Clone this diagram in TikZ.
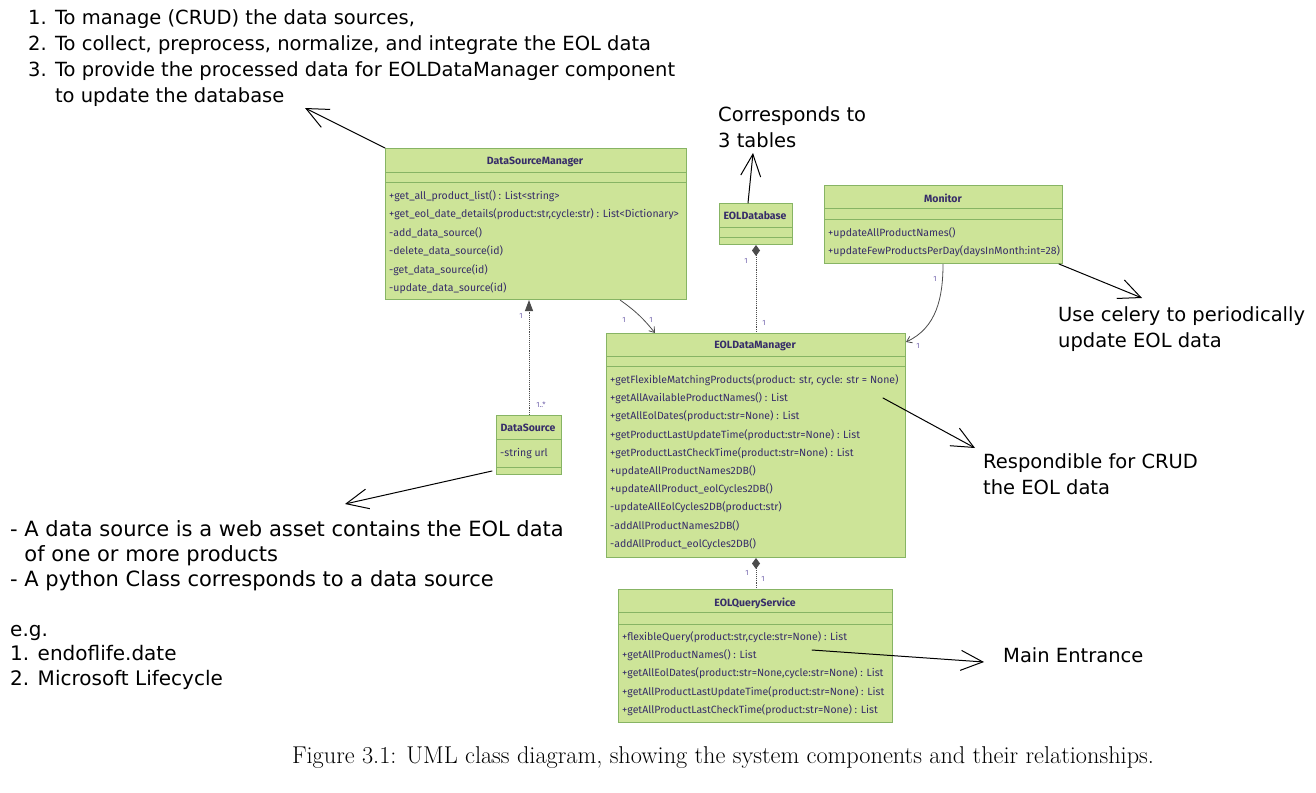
\documentclass[tikz,border=0pt]{standalone}
\usepackage{fontspec}
\usepackage{xcolor}
\usepackage{tikz}
\usetikzlibrary{calc,positioning,arrows.meta}
\newfontfamily\notefont{DejaVu Sans}
\newfontfamily\umlfont{Fira Sans}
\definecolor{classFill}{RGB}{205, 228, 152}
\definecolor{classBorder}{RGB}{135, 180, 100}
\definecolor{classText}{RGB}{55, 45, 105}
\definecolor{multColor}{RGB}{110, 95, 170}

\tikzset{
    classbox/.style={draw=classBorder, fill=classFill, line width=1pt, inner sep=0pt, anchor=north west},
    compline/.style={draw=classBorder, line width=1pt},
    classtitle/.style={font=\umlfont\bfseries\fontsize{10.5}{12}\selectfont, text=classText, inner sep=0pt},
    member/.style={font=\umlfont\fontsize{10.5}{12}\selectfont, text=classText, anchor=west, inner sep=0pt},
    mult/.style={font=\umlfont\fontsize{7.5}{8}\selectfont, text=multColor, inner sep=0pt},
    note/.style={font=\notefont\fontsize{19.5}{26}\selectfont, anchor=north west, align=left, inner sep=0pt},
    notearrow/.style={-{Straight Barb[length=22pt,width=20pt,line width=1pt]}, line width=1pt, line cap=round},
    umlarrow/.style={-{Straight Barb[length=5pt,width=7pt]}, draw=black!70, line width=0.8pt},
    umldots/.style={densely dotted, draw=black!70, line width=0.9pt}
}

\begin{document}
\begin{tikzpicture}[x=1pt, y=-1pt]
            \useasboundingbox (0,0) rectangle (1316,792);

            % DataSourceManager class
            \node[classbox, minimum width=301pt, minimum height=151pt] (dsm) at (385,148) {};
            \draw[compline] ($(dsm.north west)+(0,24)$) -- ($(dsm.north east)+(0,24)$);
            \draw[compline] ($(dsm.north west)+(0,34)$) -- ($(dsm.north east)+(0,34)$);
            \node[classtitle] (dsmTitle) at (535,162) {DataSourceManager};
            \node[member] (dsmM1) at (389,196) {+get\_all\_product\_list() : List<string>};
            \node[member] (dsmM2) at (389,214) {+get\_eol\_date\_details(product:str,cycle:str) : List<Dictionary>};
            \node[member] (dsmM3) at (389,233) {-add\_data\_source()};
            \node[member] (dsmM4) at (389,251) {-delete\_data\_source(id)};
            \node[member] (dsmM5) at (389,270) {-get\_data\_source(id)};
            \node[member] (dsmM6) at (389,288) {-update\_data\_source(id)};

            % EOLDatabase class
            \node[classbox, minimum width=73pt, minimum height=41pt] (edb) at (719,203) {};
            \draw[compline] ($(edb.north west)+(0,24)$) -- ($(edb.north east)+(0,24)$);
            \draw[compline] ($(edb.north west)+(0,34)$) -- ($(edb.north east)+(0,34)$);
            \node[classtitle] (edbTitle) at (755,216) {EOLDatabase};

            % Monitor class
            \node[classbox, minimum width=238pt, minimum height=78pt] (mon) at (824,185) {};
            \draw[compline] ($(mon.north west)+(0,23)$) -- ($(mon.north east)+(0,23)$);
            \draw[compline] ($(mon.north west)+(0,34)$) -- ($(mon.north east)+(0,34)$);
            \node[classtitle] (monTitle) at (943,198) {Monitor};
            \node[member] (monM1) at (828,233) {+updateAllProductNames()};
            \node[member] (monM2) at (828,251) {+updateFewProductsPerDay(daysInMonth:int=28)};

            % EOLDataManager class
            \node[classbox, minimum width=299pt, minimum height=224pt] (edm) at (606,333) {};
            \draw[compline] ($(edm.north west)+(0,23)$) -- ($(edm.north east)+(0,23)$);
            \draw[compline] ($(edm.north west)+(0,33)$) -- ($(edm.north east)+(0,33)$);
            \node[classtitle] (edmTitle) at (755,346) {EOLDataManager};
            \node[member] (edmM1) at (610,380) {+getFlexibleMatchingProducts(product: str, cycle: str = None)};
            \node[member] (edmM2) at (610,398) {+getAllAvailableProductNames() : List};
            \node[member] (edmM3) at (610,416) {+getAllEolDates(product:str=None) : List};
            \node[member] (edmM4) at (610,435) {+getProductLastUpdateTime(product:str=None) : List};
            \node[member] (edmM5) at (610,453) {+getProductLastCheckTime(product:str=None) : List};
            \node[member] (edmM6) at (610,471) {+updateAllProductNames2DB()};
            \node[member] (edmM7) at (610,489) {+updateAllProduct\_eolCycles2DB()};
            \node[member] (edmM8) at (610,507) {-updateAllEolCycles2DB(product:str)};
            \node[member] (edmM9) at (610,526) {-addAllProductNames2DB()};
            \node[member] (edmM10) at (610,544) {-addAllProduct\_eolCycles2DB()};

            % DataSource class
            \node[classbox, minimum width=65pt, minimum height=59pt] (ds) at (496,415) {};
            \draw[compline] ($(ds.north west)+(0,24)$) -- ($(ds.north east)+(0,24)$);
            \draw[compline] ($(ds.north west)+(0,52)$) -- ($(ds.north east)+(0,52)$);
            \node[classtitle] (dsTitle) at (528,428) {DataSource};
            \node[member] (dsM1) at (500,454) {-string url};

            % EOLQueryService class
            \node[classbox, minimum width=274pt, minimum height=133pt] (eqs) at (618,589) {};
            \draw[compline] ($(eqs.north west)+(0,23)$) -- ($(eqs.north east)+(0,23)$);
            \draw[compline] ($(eqs.north west)+(0,35)$) -- ($(eqs.north east)+(0,35)$);
            \node[classtitle] (eqsTitle) at (755,603) {EOLQueryService};
            \node[member] (eqsM1) at (622,637) {+flexibleQuery(product:str,cycle:str=None) : List};
            \node[member] (eqsM2) at (622,655) {+getAllProductNames() : List};
            \node[member] (eqsM3) at (622,673) {+getAllEolDates(product:str=None,cycle:str=None) : List};
            \node[member] (eqsM4) at (622,692) {+getAllProductLastUpdateTime(product:str=None) : List};
            \node[member] (eqsM5) at (622,710) {+getAllProductLastCheckTime(product:str=None) : List};

            % Relations between the classes
            \draw[umldots, -{Triangle[length=11pt,width=8pt]}] (ds.north) -- (ds.north |- dsm.south);
            \draw[umlarrow] ($(dsm.south west)+(235,0)$) to[bend left=8] ($(edm.north west)+(49,0)$);
            \draw[umldots, {Diamond[length=11pt,width=8pt]}-] (edb.south) -- (edb.south |- edm.north);
            \draw[umlarrow] ($(mon.south west)+(119,0)$) to[out=-90, in=25] ($(edm.north east)+(0,9)$);
            \draw[umldots, {Diamond[length=11pt,width=8pt]}-] (edm.south) -- (edm.south |- eqs.north);

            % Multiplicities
            \node[mult] (mDsmDs) at (521,316) {1};
            \node[mult] (mDsDsm) at (541,405) {1..*};
            \node[mult] (mDsmEdm) at (624,320) {1};
            \node[mult] (mEdmDsm) at (651,320) {1};
            \node[mult] (mEdbEdm) at (746,261) {1};
            \node[mult] (mEdmEdb) at (764,323) {1};
            \node[mult] (mMonEdm) at (935,279) {1};
            \node[mult] (mEdmMon) at (918,346) {1};
            \node[mult] (mEdmEqs) at (747,573) {1};
            \node[mult] (mEqsEdm) at (763,579) {1};

            % Notes
            \node[note] (noteDsm) at (28,9) {1. To manage (CRUD) the data sources,\\2. To collect, preprocess, normalize, and integrate the EOL data\\3. To provide the processed data for EOLDataManager component\\\phantom{3. }to update the database};
            \node[note] (noteDb) at (718,106) {Corresponds to\\3 tables};
            \node[note] (noteMon) at (1058,306) {Use celery to periodically\\update EOL data};
            \node[note] (noteEdm) at (983,453) {Respondible for CRUD\\the EOL data};
            \node[note, anchor=west] (noteEqs) at (1003,655) {Main Entrance};
            \node[note, font=\notefont\fontsize{21}{25}\selectfont] (noteDs) at (10,520) {- A data source is a web asset contains the EOL data\\\phantom{- }of one or more products\\- A python Class corresponds to a data source};
            \node[note, font=\notefont\fontsize{20}{24.5}\selectfont] (noteEg) at (10,625) {e.g.\\1. endoflife.date\\2. Microsoft Lifecycle};

            % Arrows pointing at the notes
            \coordinate (tipDsm) at (305,108);
            \coordinate (tipDb) at (753,153);
            \coordinate (tipMon) at (1142,298);
            \coordinate (tipEdm) at (975,448);
            \coordinate (tipDs) at (345,504);
            \coordinate (tipEqs) at (984,662);
            \draw[notearrow] (dsm.north west) -- (tipDsm);
            \draw[notearrow] ($(edb.north west)+(29,0)$) -- (tipDb);
            \draw[notearrow] ($(mon.south east)+(-4,0)$) -- (tipMon);
            \draw[notearrow] ($(edm.north east)+(-23,65)$) -- (tipEdm);
            \draw[notearrow] ($(ds.south west)+(-4,-4)$) -- (tipDs);
            \draw[notearrow] ($(eqs.north west)+(194,61)$) -- (tipEqs);

            % Caption
            \node[font=\fontsize{24.3}{28}\selectfont] (caption) at (723,758) {Figure 3.1: UML class diagram, showing the system components and their relationships.};
        \end{tikzpicture}
\end{document}
